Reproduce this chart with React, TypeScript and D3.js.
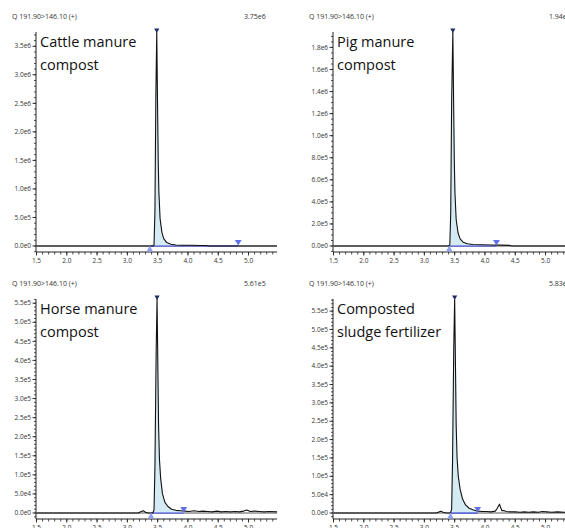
import * as d3 from "d3";

const headerLabel = "Q 191.90>146.10 (+)";
const panelTitles = [
  ["Cattle manure", "compost"],
  ["Pig manure", "compost"],
  ["Horse manure", "compost"],
  ["Composted", "sludge fertilizer"],
];
const maxLabels = ["3.75e6", "1.94e6", "5.61e5", "5.83e5"];
const yMax = [3.75e6, 1.94e6, 5.61e5, 5.83e5];
const yMajorStep = [5e5, 2e5, 5e4, 5e4];
const yMinorStep = [1e5, 5e4, 1e4, 1e4];
const xEnd = [5.47, 5.6, 5.47, 5.6];
const xTickLabels = ["1.5", "2.0", "2.5", "3.0", "3.5", "4.0", "4.5", "5.0"];

// integration markers (min)
const peakStart = [3.37, 3.41, 3.39, 3.43];
const peakEnd = [4.83, 4.19, 3.93, 3.88];

const cattleTime = [1.5, 3.42, 3.44, 3.455, 3.47, 3.485, 3.5, 3.51, 3.52, 3.54, 3.57, 3.6, 3.65, 3.72, 3.8, 3.9, 4.05, 4.2, 4.3, 4.34, 5.47];
const cattleIntensity = [0, 0, 2e4, 6e5, 2.6e6, 3.75e6, 2.3e6, 1.45e6, 9.5e5, 4.8e5, 2.4e5, 1.3e5, 6e4, 3e4, 1.8e4, 1.4e4, 1.2e4, 1e4, 8e3, 0, 0];

const pigTime = [1.5, 3.4, 3.42, 3.435, 3.45, 3.47, 3.485, 3.495, 3.505, 3.525, 3.555, 3.59, 3.64, 3.71, 3.8, 3.95, 4.1, 4.25, 4.4, 4.44, 5.6];
const pigIntensity = [0, 0, 1e4, 3e5, 1.3e6, 1.94e6, 1.2e6, 7.5e5, 4.8e5, 2.4e5, 1.2e5, 6.5e4, 3.5e4, 2e4, 1.4e4, 1.1e4, 9e3, 8e3, 6e3, 0, 0];

const horseTime = [1.5, 3.18, 3.22, 3.26, 3.3, 3.34, 3.42, 3.44, 3.455, 3.475, 3.49, 3.505, 3.515, 3.53, 3.55, 3.58, 3.62, 3.67, 3.73, 3.8, 3.88, 3.95, 4.02, 4.1, 4.18, 4.25, 4.32, 4.4, 4.48, 4.55, 4.62, 4.7, 4.78, 4.85, 4.92, 4.97, 5.03, 5.1, 5.18, 5.26, 5.34, 5.47];
const horseIntensity = [0, 0, 3e3, 6e3, 2e3, 0, 0, 8e3, 1.2e5, 4.2e5, 5.61e5, 3.6e5, 2.3e5, 1.4e5, 9e4, 5e4, 2.8e4, 1.7e4, 1e4, 7e3, 6e3, 5e3, 4e3, 6e3, 4e3, 5e3, 4e3, 3e3, 5e3, 3e3, 4e3, 3e3, 4e3, 3e3, 5e3, 8e3, 4e3, 5e3, 4e3, 3e3, 4e3, 3e3];

const sludgeTime = [1.5, 3.2, 3.24, 3.27, 3.31, 3.36, 3.43, 3.45, 3.465, 3.485, 3.5, 3.515, 3.525, 3.54, 3.56, 3.59, 3.63, 3.68, 3.74, 3.8, 3.88, 3.95, 4.02, 4.1, 4.17, 4.2, 4.24, 4.28, 4.31, 4.35, 4.42, 4.5, 4.58, 4.65, 4.72, 4.8, 4.88, 4.95, 5.02, 5.1, 5.2, 5.3, 5.4, 5.6];
const sludgeIntensity = [0, 0, 3e3, 5e3, 2e3, 0, 0, 1e4, 1.4e5, 4.5e5, 5.83e5, 3.8e5, 2.4e5, 1.5e5, 1e5, 6.5e4, 3.8e4, 2.2e4, 1.3e4, 9e3, 5e3, 4e3, 4e3, 3e3, 5e3, 1.2e4, 2.4e4, 6e3, 7e3, 4e3, 3e3, 3e3, 2e3, 3e3, 2e3, 3e3, 2e3, 4e3, 3e3, 2e3, 3e3, 2e3, 2e3, 2e3];

const traces = [
  [cattleTime, cattleIntensity],
  [pigTime, pigIntensity],
  [horseTime, horseIntensity],
  [sludgeTime, sludgeIntensity],
];

const offsets = [
  [0, 0],
  [297, 0],
  [0, 267],
  [297, 267],
];
const maxLabelX = [244, 252, 244, 252];

const fmt = (v: number) => v.toExponential(1).replace("+", "");

type Pt = { t: number; v: number };

function Panel({ i }: { i: number }) {
  const [times, vals] = traces[i];
  const pts: Pt[] = times.map((t, k) => ({ t, v: vals[k] }));
  const x = d3.scaleLinear().domain([1.5, 5.47]).range([36.5, 277]);
  const y = d3.scaleLinear().domain([0, yMax[i]]).range([246, 32]);
  const axisY = 252;
  const xRight = x(xEnd[i]);

  const line = d3
    .line<Pt>()
    .x((d) => x(d.t))
    .y((d) => y(d.v));

  // area between trace and baseline inside integration window
  const interp = (t: number) => {
    const k = d3.bisector((d: Pt) => d.t).left(pts, t);
    if (k <= 0) return pts[0].v;
    if (k >= pts.length) return pts[pts.length - 1].v;
    const a = pts[k - 1], b = pts[k];
    return a.v + ((b.v - a.v) * (t - a.t)) / (b.t - a.t);
  };
  const inside = [
    { t: peakStart[i], v: interp(peakStart[i]) },
    ...pts.filter((d) => d.t > peakStart[i] && d.t < peakEnd[i]),
    { t: peakEnd[i], v: interp(peakEnd[i]) },
  ];
  const area = d3
    .area<Pt>()
    .x((d) => x(d.t))
    .y0(y(0))
    .y1((d) => y(d.v));

  const apex = pts.reduce((m, d) => (d.v > m.v ? d : m), pts[0]);

  const xMinor = d3.range(15, Math.floor(xEnd[i] * 10 + 1e-6) + 1).map((d) => d / 10);
  const yMajor = d3.range(0, yMax[i] + 1, yMajorStep[i]);
  const yMinor = d3
    .range(-Math.ceil((axisY - 246) / (y(0) - y(yMinorStep[i]))) * yMinorStep[i], yMax[i] + 1, yMinorStep[i])
    .filter((v) => y(v) <= axisY + 0.5 && y(v) >= y(yMax[i]) - 0.5);

  const sx = x(peakStart[i]);
  const ex = x(peakEnd[i]);
  const y0 = y(0);

  return (
    <g transform={`translate(${offsets[i][0]},${offsets[i][1]})`}>
      <text x={12} y={19} fontSize={7} fill="#333">
        {headerLabel}
      </text>
      <text x={maxLabelX[i]} y={19} fontSize={7} fill="#333">
        {maxLabels[i]}
      </text>

      {/* y axis */}
      <line x1={36} x2={36} y1={y(yMax[i])} y2={axisY} stroke="#222" strokeWidth={1} />
      {yMinor.map((v) => (
        <line key={"m" + v} x1={34} x2={36} y1={y(v)} y2={y(v)} stroke="#222" strokeWidth={0.8} />
      ))}
      {yMajor.map((v) => (
        <g key={"M" + v}>
          <line x1={32.5} x2={36} y1={y(v)} y2={y(v)} stroke="#222" strokeWidth={0.9} />
          <text x={31} y={y(v) + 2.2} fontSize={6.5} textAnchor="end" fill="#333">
            {fmt(v)}
          </text>
        </g>
      ))}

      {/* x axis */}
      <line x1={36} x2={xRight} y1={axisY} y2={axisY} stroke="#222" strokeWidth={1} />
      {xMinor.map((t) => (
        <line key={"x" + t} x1={x(t)} x2={x(t)} y1={axisY} y2={axisY + 2.5} stroke="#222" strokeWidth={0.8} />
      ))}
      {xTickLabels.map((l) => (
        <g key={l}>
          <line x1={x(+l)} x2={x(+l)} y1={axisY} y2={axisY + 3.5} stroke="#222" strokeWidth={0.9} />
          <text x={x(+l)} y={axisY + 11} fontSize={6.5} textAnchor="middle" fill="#333">
            {l}
          </text>
        </g>
      ))}

      {/* zero line */}
      <line x1={36} x2={xRight} y1={y0} y2={y0} stroke="#555" strokeWidth={1} />

      <path d={area(inside) ?? ""} fill="#d5ebf3" />
      <line x1={sx} x2={ex} y1={y0} y2={y0} stroke="#3a44e6" strokeWidth={1.2} />
      <path d={line(pts) ?? ""} fill="none" stroke="#111" strokeWidth={1.1} strokeLinejoin="round" />

      {/* markers */}
      <path d={`M${sx},${y0 - 0.5} L${sx + 3.2},${y0 + 5.5} L${sx - 3.2},${y0 + 5.5} Z`} fill="#8f9ff2" />
      <path d={`M${ex},${y0 - 0.5} L${ex + 3.4},${y0 - 6} L${ex - 3.4},${y0 - 6} Z`} fill="#5f70ea" />
      <path
        d={`M${x(apex.t)},${y(apex.v) + 1} L${x(apex.t) + 2.6},${y(apex.v) - 3.5} L${x(apex.t) - 2.6},${y(apex.v) - 3.5} Z`}
        fill="#1d2a66"
      />

      <text x={40} y={47} fontSize={14.5} fill="#111">
        {panelTitles[i][0]}
      </text>
      <text x={40} y={70} fontSize={14.5} fill="#111">
        {panelTitles[i][1]}
      </text>
    </g>
  );
}

export default function App() {
  return (
    <div style={{ position: "absolute", left: 0, top: 0 }}>
      <svg
        width={565}
        height={528}
        style={{ display: "block", background: "#fff", fontFamily: "'Open Sans', sans-serif" }}
      >
        {[0, 1, 2, 3].map((i) => (
          <Panel key={i} i={i} />
        ))}
      </svg>
    </div>
  );
}
